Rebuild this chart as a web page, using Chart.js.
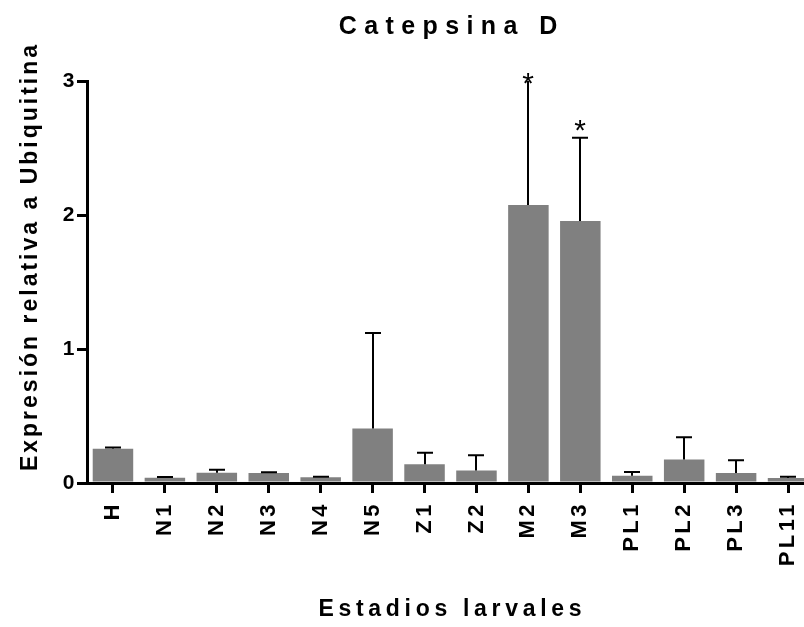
<!DOCTYPE html>
<html>
<head>
<meta charset="utf-8">
<script src="https://cdn.jsdelivr.net/npm/chart.js@4.4.0/dist/chart.umd.min.js"></script>
<style>
  html, body { margin: 0; padding: 0; background: #fff; overflow: hidden; }
  canvas { display: block; }
</style>
</head>
<body>
<canvas id="grafico" width="830" height="627"></canvas>
<script>
// Datos
const estadios = ['H', 'N1', 'N2', 'N3', 'N4', 'N5', 'Z1', 'Z2', 'M2', 'M3', 'PL1', 'PL2', 'PL3', 'PL11'];
const expresion = [0.255, 0.04, 0.077, 0.075, 0.042, 0.407, 0.139, 0.094, 2.075, 1.956, 0.054, 0.176, 0.074, 0.037];
const errorSup = [0.01, 0.005, 0.022, 0.006, 0.005, 0.712, 0.087, 0.114, 0.95, 0.62, 0.028, 0.166, 0.095, 0.01];
const significancia = ['', '', '', '', '', '', '', '', '*', '*', '', '', '', ''];
const ticksY = [0, 1, 2, 3];

const FUENTE = '"Liberation Sans", Arial, sans-serif';

// Texto con espaciado entre letras, centrado en x
function textoEspaciado(ctx, texto, x, y, espacio) {
    ctx.letterSpacing = espacio + 'px';
    const w = ctx.measureText(texto).width - espacio;
    ctx.textAlign = 'left';
    ctx.fillText(texto, x - w / 2, y);
    ctx.letterSpacing = '0px';
}

// Espaciado de las etiquetas de los ejes
const espaciado = {
    id: 'espaciado',
    beforeDraw(chart) { chart.ctx.letterSpacing = '3.5px'; },
    beforeDatasetsDraw(chart) { chart.ctx.letterSpacing = '0px'; }
};

// Barras de error (solo hacia arriba) y asteriscos
const barrasError = {
    id: 'barrasError',
    afterDatasetsDraw(chart) {
        const ctx = chart.ctx;
        const escalaY = chart.scales.y;
        const area = chart.chartArea;
        const meta = chart.getDatasetMeta(0);
        ctx.save();
        ctx.strokeStyle = '#000';
        ctx.fillStyle = '#000';
        ctx.lineWidth = 2;
        meta.data.forEach((barra, i) => {
            const tope = escalaY.getPixelForValue(expresion[i] + errorSup[i]);
            const cortado = tope < area.top;
            const yTope = cortado ? area.top : tope;
            const x = Math.round(barra.x);
            ctx.beginPath();
            ctx.moveTo(x, barra.y);
            ctx.lineTo(x, yTope);
            if (!cortado) {
                ctx.moveTo(x - 8, yTope);
                ctx.lineTo(x + 8, yTope);
            }
            ctx.stroke();
            if (significancia[i]) {
                ctx.font = '30px ' + FUENTE;
                ctx.textAlign = 'center';
                ctx.textBaseline = 'alphabetic';
                const m = ctx.measureText(significancia[i]);
                const centro = cortado ? area.top - 3 : yTope - 12;
                ctx.fillText(significancia[i], x, centro + (m.actualBoundingBoxAscent - m.actualBoundingBoxDescent) / 2);
            }
        });
        ctx.restore();
    }
};

// Títulos
const titulos = {
    id: 'titulos',
    afterDraw(chart) {
        const ctx = chart.ctx;
        ctx.save();
        ctx.fillStyle = '#000';
        ctx.textBaseline = 'alphabetic';

        ctx.font = 'bold 25px ' + FUENTE;
        textoEspaciado(ctx, 'Catepsina D', 448, 34, 7.4);

        ctx.font = 'bold 23px ' + FUENTE;
        textoEspaciado(ctx, 'Estadios larvales', 450, 616, 4.7);

        ctx.translate(37, 258);
        ctx.rotate(-Math.PI / 2);
        ctx.font = 'bold 23px ' + FUENTE;
        textoEspaciado(ctx, 'Expresión relativa a Ubiquitina', 0, 0, 3);
        ctx.restore();
    }
};

const ctx = document.getElementById('grafico').getContext('2d');
const grafico = new Chart(ctx, {
    type: 'bar',
    data: {
        labels: estadios,
        datasets: [{
            data: expresion,
            backgroundColor: '#808080',
            borderWidth: 0,
            categoryPercentage: 1,
            barPercentage: 0.78
        }]
    },
    options: {
        responsive: false,
        devicePixelRatio: 1,
        animation: false,
        layout: { padding: { top: 81, right: 16, left: 0, bottom: 0 } },
        plugins: {
            legend: { display: false },
            tooltip: { enabled: false }
        },
        scales: {
            x: {
                offset: true,
                afterFit: s => { s.height = 144; },
                border: { display: true, color: '#000', width: 3 },
                grid: {
                    display: true, drawOnChartArea: false, drawTicks: true, offset: false,
                    tickLength: 10, tickWidth: 3, lineWidth: 3, tickColor: '#000', color: '#000'
                },
                ticks: {
                    autoSkip: false, maxRotation: 90, minRotation: 90, padding: 8,
                    color: '#000', font: { family: FUENTE, size: 22, weight: 'bold' }
                }
            },
            y: {
                min: 0,
                max: 3,
                afterFit: s => { s.width = 87; },
                afterBuildTicks: s => { s.ticks = ticksY.map(v => ({ value: v })); },
                border: { display: true, color: '#000', width: 3 },
                grid: {
                    display: true, drawOnChartArea: false, drawTicks: true,
                    tickLength: 10, tickWidth: 3, lineWidth: 3, tickColor: '#000', color: '#000'
                },
                ticks: {
                    padding: -1,
                    color: '#000', font: { family: FUENTE, size: 21, weight: 'bold' }
                }
            }
        }
    },
    plugins: [espaciado, barrasError, titulos]
});
</script>
</body>
</html>
